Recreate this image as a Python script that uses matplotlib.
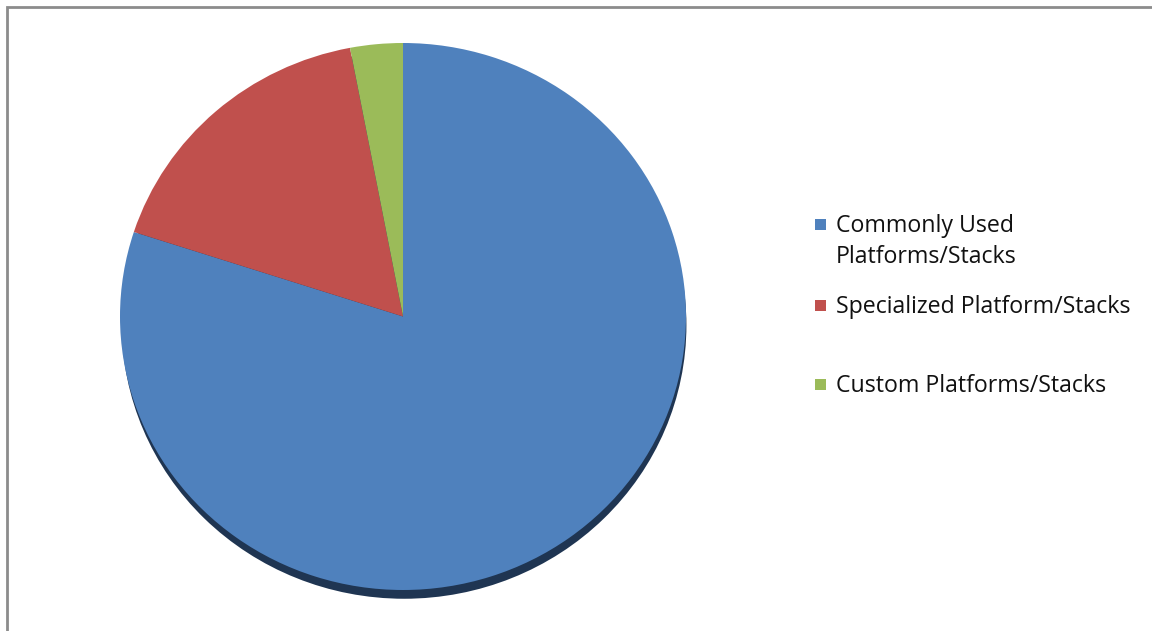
import matplotlib.pyplot as plt
from matplotlib.patches import Ellipse, Rectangle

# data
labels = ["Commonly Used\nPlatforms/Stacks", "Specialized Platform/Stacks", "Custom Platforms/Stacks"]
values = [80, 17, 3]
colors = ["#4f81bd", "#c0504d", "#9bbb59"]

W, H = 1152, 631
fig = plt.figure(figsize=(W / 100, H / 100), dpi=100)

def px(x0, y0, x1, y1):
    # pixel box (top-left origin) -> figure fraction rect
    return [x0 / W, 1 - y1 / H, (x1 - x0) / W, (y1 - y0) / H]

# outer chart frame
fig.patches.append(Rectangle((7 / W, -0.05), 1.05, 1 - 7 / H + 0.05, transform=fig.transFigure,
                             fill=False, edgecolor="#8c8c8c", linewidth=2))

ax = fig.add_axes(px(120, 43, 686, 590))
shadow = Ellipse((0.004, -0.032), 1.995, 2.0, facecolor="#1f3552", edgecolor="none", zorder=0, clip_on=False)
ax.add_patch(shadow)
wedges, _ = ax.pie(values, colors=colors, startangle=90, counterclock=False,
                   wedgeprops=dict(linewidth=0))
for w in wedges:
    w.set_zorder(1)
    w.set_clip_on(False)
ax.set_aspect("auto")
ax.set_xlim(-1, 1)
ax.set_ylim(-1, 1)
ax.axis("off")

# legend drawn by hand (Excel-style uneven spacing)
leg_y = [224, 305, 384]
for lab, col, y in zip(labels, colors, leg_y):
    fig.patches.append(Rectangle((815 / W, 1 - (y + 5.5) / H), 11 / W, 11 / H,
                                 transform=fig.transFigure, facecolor=col, edgecolor="none"))
    fig.text(836 / W, 1 - (y - 10) / H, lab, fontsize=16.7, family="Open Sans",
             va="top", ha="left", color="#111111", linespacing=1.38)

fig.savefig("out.png", dpi=100)
